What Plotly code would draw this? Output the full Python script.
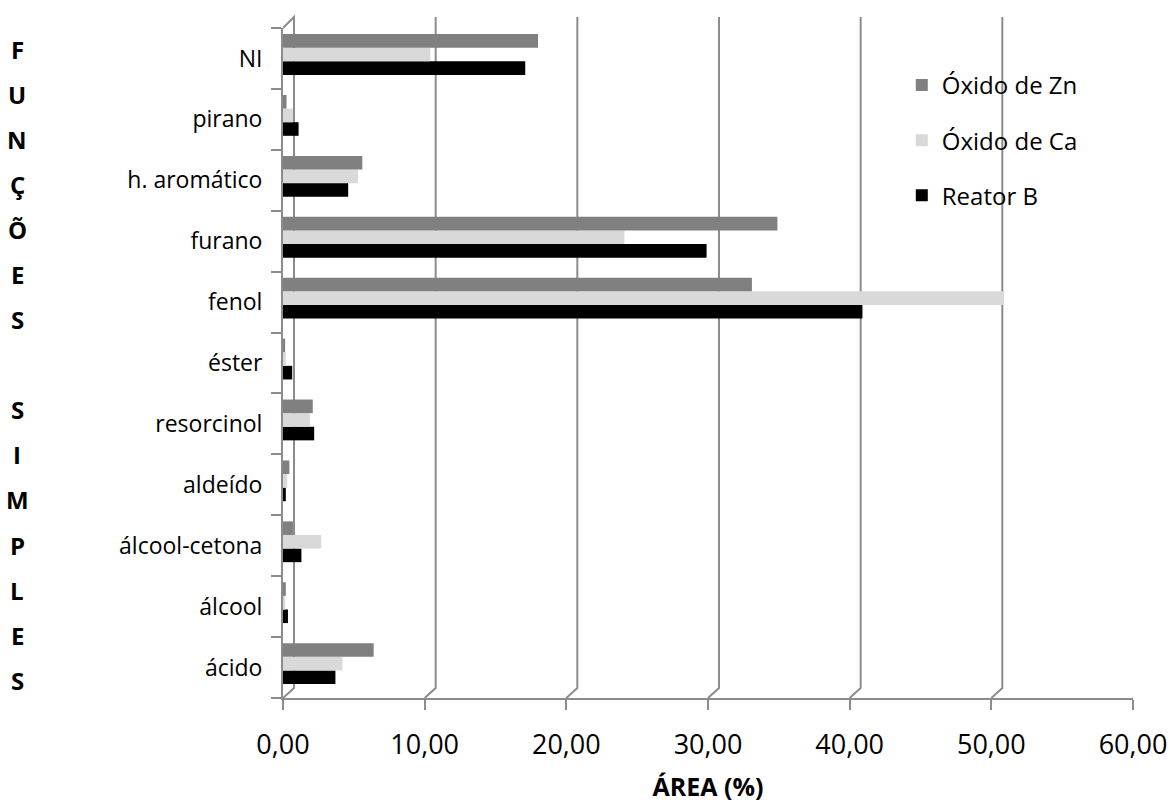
import plotly.graph_objects as go

# Functional groups (bottom to top) and their relative area (%) per catalyst/reactor
categories = ["ácido", "álcool", "álcool-cetona", "aldeído", "resorcinol", "éster",
              "fenol", "furano", "h. aromático", "pirano", "NI"]
oxido_zn = [6.4, 0.2, 0.7, 0.45, 2.1, 0.15, 33.1, 34.9, 5.6, 0.25, 18.0]
oxido_ca = [4.2, 0.15, 2.7, 0.3, 1.9, 0.2, 50.9, 24.1, 5.3, 0.7, 10.4]
reator_b = [3.7, 0.35, 1.3, 0.2, 2.2, 0.65, 40.9, 29.9, 4.6, 1.1, 17.1]

x_ticks = [0, 10, 20, 30, 40, 50, 60]
side_letters = ["F", "U", "N", "Ç", "Õ", "E", "S", "", "S", "I", "M", "P", "L", "E", "S"]

FONT = "Open Sans"
GRID = "#8c8c8c"
BAR_W = 0.2233

fig = go.Figure()
series = [
    ("Reator B", reator_b, "#000000", 3, -0.27),
    ("Óxido de Ca", oxido_ca, "#d9d9d9", 2, -0.047),
    ("Óxido de Zn", oxido_zn, "#808080", 1, 0.177),
]
for name, vals, color, rank, off in series:
    fig.add_trace(go.Bar(
        y=categories, x=vals, orientation="h", name=name,
        width=BAR_W, offset=off,
        marker=dict(color=color, line=dict(width=0)),
        legendgroup=name, legendrank=rank,
    ))

# 3D-style back-wall gridlines: front foot at the tick, slanting back to the wall
shapes = []
for v in x_ticks:
    path = "M 0,0 L 11,10 L 11,681"
    if v == 0:
        path += " L 0,670"
    shapes.append(dict(
        type="path", xref="x", yref="paper", xsizemode="pixel", ysizemode="pixel",
        xanchor=v, yanchor=0, path=path,
        line=dict(color=GRID, width=2), layer="below",
    ))

annotations = []
for i, ch in enumerate(side_letters):
    if not ch:
        continue
    annotations.append(dict(
        text=f"<b>{ch}</b>", xref="paper", yref="paper", x=(17 - 283) / 850,
        y=(698 - (49 + i * 45.1)) / 670, showarrow=False,
        font=dict(family=FONT, size=24, color="#000"), xanchor="center", yanchor="middle",
    ))

fig.update_layout(
    width=1170, height=808,
    margin=dict(l=283, r=37, t=28, b=110, autoexpand=False),
    paper_bgcolor="white", plot_bgcolor="white",
    barmode="overlay",
    separators=",.",
    font=dict(family=FONT, size=23, color="#000"),
    shapes=shapes, annotations=annotations,
    legend=dict(
        x=0.728, y=0.948, xanchor="left", yanchor="top",
        font=dict(family=FONT, size=24, color="#000"),
        tracegroupgap=21, bgcolor="rgba(0,0,0,0)",
        itemsizing="constant", itemwidth=30,
    ),
    xaxis=dict(
        range=[0, 60], tickvals=x_ticks, tickformat=".2f",
        showgrid=False, zeroline=False,
        showline=True, linecolor=GRID, linewidth=2,
        ticks="outside", ticklen=10, tickcolor=GRID, tickwidth=2,
        tickfont=dict(family=FONT, size=27),
        ticklabelstandoff=12,
        title=dict(text="<b>ÁREA (%)</b>", font=dict(family=FONT, size=25), standoff=17),
        automargin=False,
    ),
    yaxis=dict(
        categoryorder="array", categoryarray=categories,
        range=[-0.5, 10.5],
        showgrid=False, zeroline=False,
        showline=True, linecolor=GRID, linewidth=2,
        ticks="outside", ticklen=10, tickcolor=GRID, tickwidth=2,
        tickson="boundaries",
        tickfont=dict(family=FONT, size=23),
        ticklabelstandoff=14,
        automargin=False,
    ),
)

fig.write_html("out.html")
